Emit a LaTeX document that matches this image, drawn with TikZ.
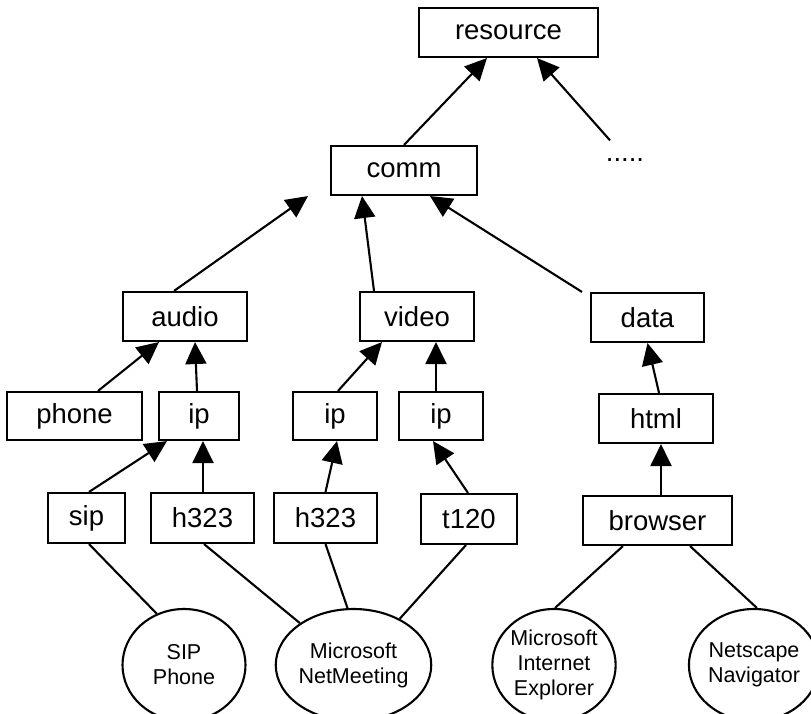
\documentclass[tikz,border=0pt]{standalone}
\usepackage{fontspec}
\setmainfont{Liberation Sans}
\usetikzlibrary{arrows.meta,shapes.geometric}
\begin{document}
\begin{tikzpicture}[x=1pt,y=-1pt,
  box/.style={draw,line width=2.1pt,inner sep=0pt,minimum height=49pt,font=\fontsize{27.5}{30}\selectfont},
  oval/.style={draw,ellipse,line width=2.1pt,inner sep=0pt,minimum width=123pt,minimum height=112pt,align=center,font=\fontsize{21.5}{25}\selectfont},
  arr/.style={line width=2.1pt,-{Triangle[length=22pt,width=21pt]}},
  ln/.style={line width=2.1pt}]
\useasboundingbox (0,0) rectangle (811,714);
% boxes
\node[box,minimum width=179pt] (resource) at (508.5,32.5) {resource};
\node[box,minimum width=146pt] (comm) at (404,170.5) {comm};
\node[font=\fontsize{27.5}{30}\selectfont,inner sep=0pt] (dots) at (625,160) {.....};
\node[box,minimum width=124pt] (audio) at (185,316.5) {audio};
\node[box,minimum width=114pt] (video) at (417,316.5) {video};
\node[box,minimum width=113pt] (data) at (647.5,317.5) {data};
\node[box,minimum width=135pt,minimum height=48pt] (phone) at (74.5,416) {phone};
\node[box,minimum width=80pt,minimum height=48pt] (ipA) at (199,416) {ip};
\node[box,minimum width=84pt,minimum height=48pt] (ipB) at (335,416) {ip};
\node[box,minimum width=84pt,minimum height=48pt] (ipC) at (441,416) {ip};
\node[box,minimum width=114pt] (html) at (656,418.5) {html};
\node[box,minimum width=77pt,minimum height=50pt] (sip) at (86.5,518) {sip};
\node[box,minimum width=103pt,minimum height=50pt] (hA) at (202.5,518) {h323};
\node[box,minimum width=103pt,minimum height=50pt] (hB) at (325.5,518) {h323};
\node[box,minimum width=96pt,minimum height=50pt] (t120) at (469,519) {t120};
\node[box,minimum width=149pt] (browser) at (657.5,520.5) {browser};
% ellipses
\node[oval] (sipE) at (184,665) {SIP\\Phone};
\node[oval] (nmE) at (353.5,665) {Microsoft\\NetMeeting};
\node[oval] (ieE) at (554,665) {Microsoft\\Internet\\Explorer};
\node[oval] (nsE) at (754,665) {Netscape\\Navigator};
% arrows
\draw[arr] (comm.north) -- ([xshift=-21.5pt]resource.south);
\draw[arr] ([xshift=-15pt,yshift=18pt]dots.north) -- ([xshift=28.5pt]resource.south);
\draw[arr] ([xshift=-11pt]audio.north) -- ([xshift=-96pt]comm.south);
\draw[arr] ([xshift=-43pt]video.north) -- ([xshift=-42pt]comm.south);
\draw[arr] ([xshift=-65.5pt]data.north) -- ([xshift=26pt]comm.south);
\draw[arr] ([xshift=23.5pt]phone.north) -- ([xshift=-26pt]audio.south);
\draw[arr] ([xshift=-2pt]ipA.north) -- ([xshift=10pt]audio.south);
\draw[arr] ([xshift=3pt]ipB.north) -- ([xshift=-35pt]video.south);
\draw[arr] ([xshift=-5pt]ipC.north) -- ([xshift=19pt]video.south);
\draw[arr] ([xshift=3pt]html.north) -- (data.south);
\draw[arr] ([xshift=3.5pt]browser.north) -- ([xshift=5pt]html.south);
\draw[arr] ([xshift=2.5pt]sip.north) -- ([xshift=-32pt]ipA.south);
\draw[arr] ([xshift=0.5pt]hA.north) -- ([xshift=4pt]ipA.south);
\draw[arr] (hB.north) -- ([xshift=2pt]ipB.south);
\draw[arr] ([xshift=-1pt]t120.north) -- ([xshift=-8pt]ipC.south);
% plain lines
\draw[ln] ([xshift=2.5pt]sip.south) -- (sipE.118);
\draw[ln] ([xshift=1.5pt]hA.south) -- (nmE.142);
\draw[ln] (hB.south) -- (nmE.96);
\draw[ln] ([xshift=-3pt]t120.south) -- (nmE.45);
\draw[ln] ([xshift=-34.5pt]browser.south) -- (ieE.89);
\draw[ln] ([xshift=32.5pt]browser.south) -- (nsE.87);
\end{tikzpicture}
\end{document}
